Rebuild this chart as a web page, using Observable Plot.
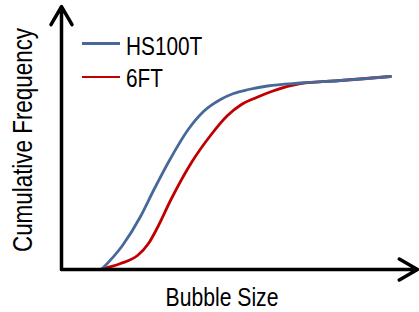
<!DOCTYPE html>
<html>
<head>
<meta charset="utf-8">
<script src="https://cdn.jsdelivr.net/npm/d3@7"></script>
<script src="https://cdn.jsdelivr.net/npm/@observablehq/plot@0.6"></script>
<style>
  html, body { margin: 0; padding: 0; background: #fff; }
  #wrap { position: relative; width: 419px; height: 312px; overflow: hidden; font-family: "Liberation Sans", Arial, sans-serif; color: #000; }
  #wrap svg { position: absolute; left: 0; top: 0; }
  .lbl { position: absolute; white-space: nowrap; line-height: 1; }
  .key { position: absolute; height: 2.5px; width: 38px; left: 82px; }
</style>
</head>
<body>
<div id="wrap"></div>
<script>
// Series (arbitrary units)
const seriesNames = ["HS100T", "6FT"];
const seriesColors = ["#46699a", "#c00000"];
const hsX = [40, 61, 79, 92, 109, 126, 142, 159, 172, 187, 206, 239, 279, 329];
const hsY = [0, 24, 53, 79, 111, 139, 158, 170, 176, 180, 183.5, 186.5, 189, 193];
const ftX = [38, 59, 76, 87, 96, 109, 130, 149, 166, 180, 195, 210, 239, 279, 329];
const ftY = [0, 6, 14, 26, 42, 69, 107, 134, 154, 165, 172, 178, 186, 189, 193];
const xLabel = "Bubble Size";
const yLabel = "Cumulative Frequency";
const X_MAX = 356, Y_MAX = 263;

const rows = [
  ...hsX.map((x, i) => ({series: seriesNames[0], x, y: hsY[i]})),
  ...ftX.map((x, i) => ({series: seriesNames[1], x, y: ftY[i]}))
];
const axes = [
  {x1: 0, y1: 0, x2: X_MAX, y2: 0},
  {x1: 0, y1: 0, x2: 0, y2: Y_MAX}
];

const chart = Plot.plot({
  width: 419,
  height: 312,
  marginLeft: 61,
  marginRight: 2,
  marginTop: 6,
  marginBottom: 43,
  x: {domain: [0, X_MAX], axis: null},
  y: {domain: [0, Y_MAX], axis: null},
  color: {domain: seriesNames, range: seriesColors},
  marks: [
    Plot.line(rows.filter(d => d.series === seriesNames[1]), {x: "x", y: "y", stroke: "series", strokeWidth: 2.8, curve: "monotone-x"}),
    Plot.line(rows.filter(d => d.series === seriesNames[0]), {x: "x", y: "y", stroke: "series", strokeWidth: 2.8, curve: "monotone-x"}),
    Plot.arrow(axes, {x1: "x1", y1: "y1", x2: "x2", y2: "y2", stroke: "#000", strokeWidth: 3.5, headLength: 9, headAngle: 60})
  ]
});
const wrap = document.getElementById("wrap");
wrap.appendChild(chart);

function addLabel(text, css) {
  const d = document.createElement("div");
  d.className = "lbl";
  d.textContent = text;
  Object.assign(d.style, css);
  wrap.appendChild(d);
  return d;
}
// legend
seriesNames.forEach((name, i) => {
  const k = document.createElement("div");
  k.className = "key";
  k.style.background = seriesColors[i];
  k.style.top = (i === 0 ? 42 : 75.5) + "px";
  wrap.appendChild(k);
  addLabel(name, {left: "126px", top: (i === 0 ? 33 : 65.3) + "px", fontSize: "26px",
    transformOrigin: "0 50%", transform: "scaleX(0.8)"});
});
// axis titles
addLabel(xLabel, {left: "221.5px", top: "297.9px", fontSize: "25.5px",
  transform: "translate(-50%,-50%) scaleX(0.83)"});
addLabel(yLabel, {left: "22.6px", top: "140px", fontSize: "28px",
  transform: "translate(-50%,-50%) rotate(-90deg) scaleX(0.8)"});
</script>
</body>
</html>
